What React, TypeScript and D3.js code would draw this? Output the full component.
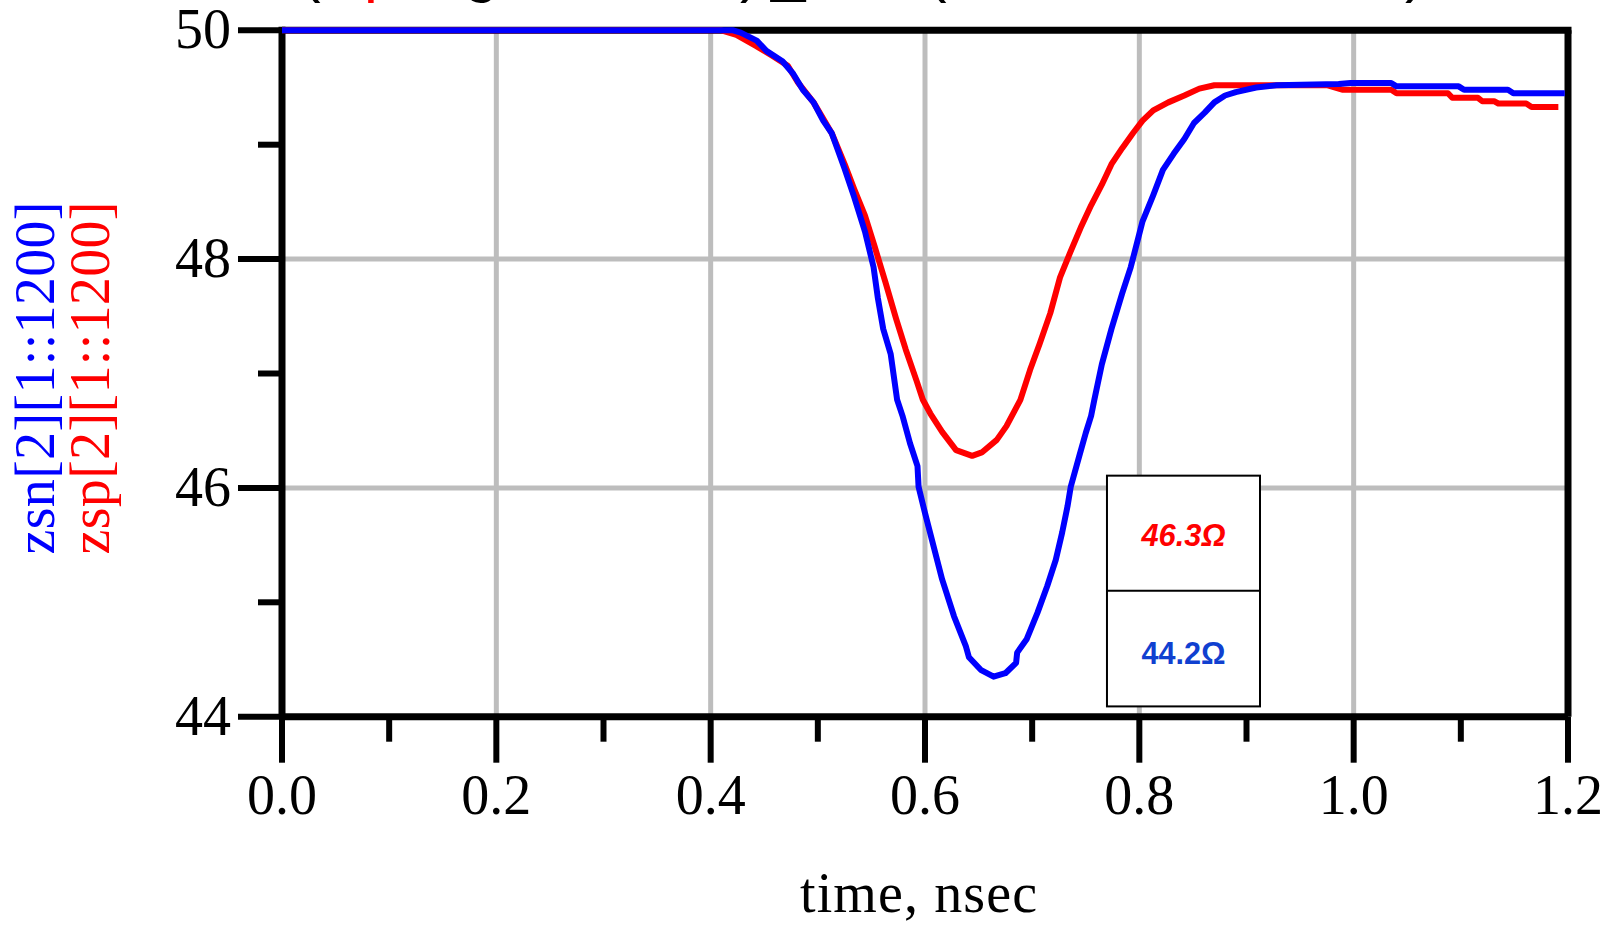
import React from 'react';
import * as d3 from 'd3';

const W = 1613;
const H = 926;

// ---- data ----
const xMajorTicks = [0, 0.2, 0.4, 0.6, 0.8, 1.0, 1.2];
const xMinorTicks = [0.1, 0.3, 0.5, 0.7, 0.9, 1.1];
const yMajorTicks = [44, 46, 48, 50];
const yMinorTicks = [45, 47, 49];
const xGridValues = [0.2, 0.4, 0.6, 0.8, 1.0];
const yGridValues = [46, 48];

const zspTime = [
  0, 0.41, 0.424, 0.443, 0.457, 0.472, 0.481, 0.496, 0.513, 0.525, 0.534, 0.544, 0.553, 0.563,
  0.573, 0.582, 0.592, 0.598, 0.605, 0.616, 0.629, 0.644, 0.653, 0.667, 0.676, 0.689, 0.698,
  0.707, 0.717, 0.726, 0.736, 0.746, 0.755, 0.765, 0.774, 0.784, 0.794, 0.803, 0.813, 0.827,
  0.842, 0.856, 0.87, 0.94, 0.975, 0.99, 1.035, 1.04, 1.088, 1.092, 1.116, 1.12, 1.131, 1.135,
  1.161, 1.166, 1.191,
];
const zspValue = [
  50, 50, 49.96, 49.86, 49.78, 49.69, 49.55, 49.37, 49.1, 48.83, 48.61, 48.38, 48.11, 47.8,
  47.48, 47.21, 46.94, 46.77, 46.65, 46.49, 46.33, 46.28, 46.31, 46.42, 46.54, 46.77, 47.03,
  47.26, 47.53, 47.84, 48.07, 48.29, 48.47, 48.65, 48.83, 48.97, 49.1, 49.21, 49.3, 49.37,
  49.43, 49.49, 49.52, 49.52, 49.52, 49.48, 49.48, 49.45, 49.45, 49.41, 49.41, 49.38, 49.38,
  49.36, 49.36, 49.33, 49.33,
];

const zsnTime = [
  0, 0.421, 0.428, 0.443, 0.452, 0.467, 0.477, 0.486, 0.496, 0.505, 0.513, 0.525, 0.534, 0.544,
  0.552, 0.556, 0.561, 0.568, 0.574, 0.579, 0.586, 0.593, 0.594, 0.6, 0.608, 0.616, 0.627,
  0.638, 0.641, 0.652, 0.664, 0.675, 0.685, 0.686, 0.695, 0.705, 0.714, 0.722, 0.728, 0.733,
  0.736, 0.744, 0.75, 0.755, 0.758, 0.765, 0.774, 0.784, 0.792, 0.803, 0.813, 0.822, 0.832,
  0.842, 0.851, 0.861, 0.87, 0.88, 0.89, 0.909, 0.928, 0.986, 0.997, 1.035, 1.04, 1.098, 1.103,
  1.144, 1.149, 1.197,
];
const zsnValue = [
  50, 50, 49.98, 49.91, 49.82, 49.73, 49.62, 49.48, 49.37, 49.21, 49.1, 48.79, 48.54, 48.24,
  47.93, 47.66, 47.39, 47.17, 46.77, 46.63, 46.39, 46.19, 46.01, 45.78, 45.49, 45.2, 44.88,
  44.62, 44.52, 44.41, 44.35, 44.38, 44.47, 44.56, 44.68, 44.91, 45.14, 45.37, 45.61, 45.84,
  46.01, 46.28, 46.48, 46.63, 46.77, 47.08, 47.39, 47.7, 47.93, 48.33, 48.56, 48.78, 48.92,
  49.05, 49.19, 49.28, 49.37, 49.43, 49.46, 49.5, 49.52, 49.53, 49.54, 49.54, 49.51, 49.51,
  49.48, 49.48, 49.45, 49.45,
];

const markerLabels = ['46.3Ω', '44.2Ω'];
const yAxisLabels = ['zsn[2][1::1200]', 'zsp[2][1::1200]'];
const xAxisLabel = 'time, nsec';

// marker box extent in data units
const boxTime = [0.7698, 0.9126];
const boxValue = [46.107, 45.1, 44.09];

const SERIF = "'Liberation Serif', 'Times New Roman', serif";
const SANS = "'Liberation Sans', Arial, sans-serif";

export default function App() {
  const x = d3.scaleLinear().domain([0, 1.2]).range([282, 1568]);
  const y = d3.scaleLinear().domain([44, 50]).range([716.7, 30.3]);

  const mkPath = (ts: number[], vs: number[]) =>
    d3
      .line<[number, number]>()
      .x((d) => x(d[0]))
      .y((d) => y(d[1]))(ts.map((t, i) => [t, vs[i]] as [number, number])) || '';

  const redPath = mkPath(zspTime, zspValue);
  const bluePath = mkPath(zsnTime, zsnValue);

  const x0 = x(0);
  const x1 = x(1.2);
  const y0 = y(44);
  const y1 = y(50);

  const bx0 = x(boxTime[0]);
  const bx1 = x(boxTime[1]);
  const by0 = y(boxValue[0]);
  const by1 = y(boxValue[1]);
  const by2 = y(boxValue[2]);
  const bcx = (bx0 + bx1) / 2;

  return (
    <svg
      width={W}
      height={H}
      style={{ position: 'absolute', left: 0, top: 0, display: 'block', background: '#fff' }}
    >
      <rect x={0} y={0} width={W} height={H} fill="#fff" />

      {/* cropped title (only descenders visible) */}
      <text y={-10} fontFamily={SANS} fontSize={62} fill="#000">
        <tspan x={300}>(</tspan>
        <tspan x={364} fill="#ff0000">p</tspan>
        <tspan x={464}>g</tspan>
        <tspan x={740}>)</tspan>
        <tspan x={771}>_</tspan>
        <tspan x={926}>(</tspan>
        <tspan x={1405}>)</tspan>
      </text>

      {/* grid */}
      {xGridValues.map((v) => (
        <line key={'gx' + v} x1={x(v)} x2={x(v)} y1={y1} y2={y0} stroke="#bdbdbd" strokeWidth={5} />
      ))}
      {yGridValues.map((v) => (
        <line key={'gy' + v} x1={x0} x2={x1} y1={y(v)} y2={y(v)} stroke="#bdbdbd" strokeWidth={5} />
      ))}

      {/* frame */}
      <line x1={x0} x2={x1 + 3.5} y1={y1} y2={y1} stroke="#000" strokeWidth={7} />
      <line x1={x1} x2={x1} y1={y1} y2={y0} stroke="#000" strokeWidth={7} />
      <line x1={x0} x2={x1} y1={y0} y2={y0} stroke="#000" strokeWidth={7} />
      <line x1={x0} x2={x0} y1={y1 - 3.5} y2={y0} stroke="#000" strokeWidth={7} />

      {/* y ticks */}
      {yMajorTicks.map((v) => (
        <line key={'ym' + v} x1={x0 - 44} x2={x0} y1={y(v)} y2={y(v)} stroke="#000" strokeWidth={6} />
      ))}
      {yMinorTicks.map((v) => (
        <line key={'yn' + v} x1={x0 - 24} x2={x0} y1={y(v)} y2={y(v)} stroke="#000" strokeWidth={6} />
      ))}
      {yMajorTicks.map((v) => (
        <text
          key={'yl' + v}
          x={x0 - 51}
          y={y(v) + 18}
          textAnchor="end"
          fontFamily={SERIF}
          fontSize={56}
          fill="#000"
        >
          {d3.format('d')(v)}
        </text>
      ))}

      {/* x ticks */}
      {xMajorTicks.map((v) => (
        <line key={'xm' + v} x1={x(v)} x2={x(v)} y1={y0} y2={y0 + 46} stroke="#000" strokeWidth={6} />
      ))}
      {xMinorTicks.map((v) => (
        <line key={'xn' + v} x1={x(v)} x2={x(v)} y1={y0} y2={y0 + 25} stroke="#000" strokeWidth={6} />
      ))}
      {xMajorTicks.map((v) => (
        <text
          key={'xl' + v}
          x={x(v)}
          y={y0 + 97}
          textAnchor="middle"
          fontFamily={SERIF}
          fontSize={56}
          fill="#000"
        >
          {d3.format('.1f')(v)}
        </text>
      ))}

      {/* axis titles */}
      <text
        x={918.5}
        y={912}
        textAnchor="middle"
        fontFamily={SERIF}
        fontSize={56}
        textLength={237}
        lengthAdjust="spacing"
        fill="#000"
      >
        {xAxisLabel}
      </text>
      <text
        transform="translate(54,378) rotate(-90)"
        textAnchor="middle"
        fontFamily={SERIF}
        fontSize={56}
        textLength={353}
        lengthAdjust="spacing"
        fill="#0000ff"
      >
        {yAxisLabels[0]}
      </text>
      <text
        transform="translate(109,378) rotate(-90)"
        textAnchor="middle"
        fontFamily={SERIF}
        fontSize={56}
        textLength={353}
        lengthAdjust="spacing"
        fill="#ff0000"
      >
        {yAxisLabels[1]}
      </text>

      {/* curves */}
      <path d={redPath} fill="none" stroke="#ff0000" strokeWidth={6} strokeLinejoin="round" />
      <path d={bluePath} fill="none" stroke="#0000ff" strokeWidth={6} strokeLinejoin="round" />

      {/* marker readout box */}
      <rect x={bx0} y={by0} width={bx1 - bx0} height={by2 - by0} fill="#fff" stroke="#000" strokeWidth={2} />
      <line x1={bx0} x2={bx1} y1={by1} y2={by1} stroke="#000" strokeWidth={2} />
      <text
        x={bcx}
        y={by0 + (by1 - by0) * 0.61}
        textAnchor="middle"
        fontFamily={SANS}
        fontSize={31}
        fontWeight="bold"
        fontStyle="italic"
        textLength={84}
        lengthAdjust="spacingAndGlyphs"
        fill="#ff0000"
      >
        {markerLabels[0]}
      </text>
      <text
        x={bcx}
        y={by1 + (by2 - by1) * 0.63}
        textAnchor="middle"
        fontFamily={SANS}
        fontSize={31}
        fontWeight="bold"
        textLength={84}
        lengthAdjust="spacingAndGlyphs"
        fill="#1040d0"
      >
        {markerLabels[1]}
      </text>
    </svg>
  );
}
